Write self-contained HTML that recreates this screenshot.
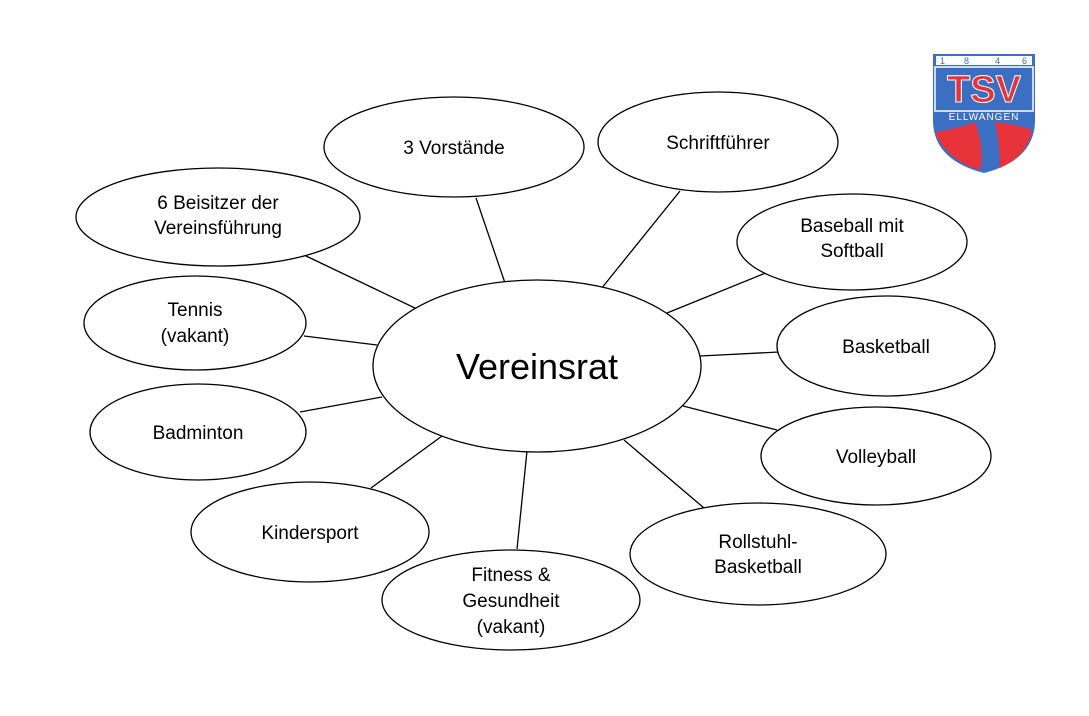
<!DOCTYPE html>
<html><head><style>body{margin:0;background:#fff}svg{display:block}text{font-family:"Liberation Sans",sans-serif;fill:#000}</style></head><body>
<svg width="1089" height="716" viewBox="0 0 1089 716" xmlns="http://www.w3.org/2000/svg">
<g stroke="#000" stroke-width="1.3">
<line x1="505" y1="283" x2="476" y2="198"/>
<line x1="601" y1="289" x2="680" y2="191"/>
<line x1="417" y1="309" x2="304" y2="255"/>
<line x1="377" y1="345" x2="304" y2="336"/>
<line x1="382" y1="397" x2="300" y2="412"/>
<line x1="442" y1="436" x2="371" y2="488"/>
<line x1="527" y1="451" x2="517" y2="549"/>
<line x1="624" y1="440" x2="704" y2="508"/>
<line x1="683" y1="406" x2="777" y2="430"/>
<line x1="700" y1="356" x2="779" y2="352"/>
<line x1="667" y1="313" x2="768" y2="272"/>
</g>
<g fill="#fff" stroke="#000" stroke-width="1.3">
<ellipse cx="537" cy="366" rx="164" ry="86"/>
<ellipse cx="454" cy="147" rx="130" ry="50"/>
<ellipse cx="718" cy="142" rx="120" ry="50"/>
<ellipse cx="218" cy="217" rx="142" ry="49"/>
<ellipse cx="852" cy="242" rx="115" ry="48"/>
<ellipse cx="195" cy="323" rx="111" ry="47"/>
<ellipse cx="886" cy="346" rx="109" ry="50"/>
<ellipse cx="198" cy="432" rx="108" ry="48"/>
<ellipse cx="876" cy="456" rx="115" ry="49"/>
<ellipse cx="310" cy="532" rx="119" ry="50"/>
<ellipse cx="758" cy="554" rx="128" ry="51"/>
<ellipse cx="511" cy="600" rx="129" ry="50"/>
</g>
<g font-size="19" text-anchor="middle">
<text x="537" y="379" font-size="36">Vereinsrat</text>
<text x="454" y="154">3 Vorstände</text>
<text x="718" y="149">Schriftführer</text>
<text x="218" y="209">6 Beisitzer der</text>
<text x="218" y="234">Vereinsführung</text>
<text x="852" y="232">Baseball mit</text>
<text x="852" y="257">Softball</text>
<text x="195" y="316">Tennis</text>
<text x="195" y="342">(vakant)</text>
<text x="886" y="353">Basketball</text>
<text x="198" y="439">Badminton</text>
<text x="876" y="463">Volleyball</text>
<text x="310" y="539">Kindersport</text>
<text x="758" y="548">Rollstuhl-</text>
<text x="758" y="573">Basketball</text>
<text x="511" y="581">Fitness &amp;</text>
<text x="511" y="607">Gesundheit</text>
<text x="511" y="633">(vakant)</text>
</g>
<g>
<path d="M933,54 H1035 V120 Q1035,160 984,173 Q933,160 933,120 Z" fill="#3a6fc4"/>
<rect x="936" y="56" width="96" height="9" fill="#fff"/>
<path d="M936,132 Q960,128 975,122 Q985,150 980,170 Q950,162 936,135 Z" fill="#e8323a"/>
<path d="M995,122 Q1020,125 1032,130 Q1028,155 1000,168 Q1000,145 995,122 Z" fill="#e8323a"/>
<rect x="935" y="67" width="98" height="44" fill="none" stroke="#fff" stroke-width="1.5"/>
<text x="984" y="102" font-size="38" font-weight="bold" text-anchor="middle" style="fill:#e8323a;stroke:#fff;stroke-width:1">TSV</text>
<text x="984" y="120" font-size="10" text-anchor="middle" letter-spacing="1" style="fill:#fff">ELLWANGEN</text>
<text x="940" y="64" font-size="9" style="fill:#3a6fc4">1</text>
<text x="964" y="64" font-size="9" style="fill:#3a6fc4">8</text>
<text x="995" y="64" font-size="9" style="fill:#3a6fc4">4</text>
<text x="1022" y="64" font-size="9" style="fill:#3a6fc4">6</text>
</g>
</svg>
</body></html>
